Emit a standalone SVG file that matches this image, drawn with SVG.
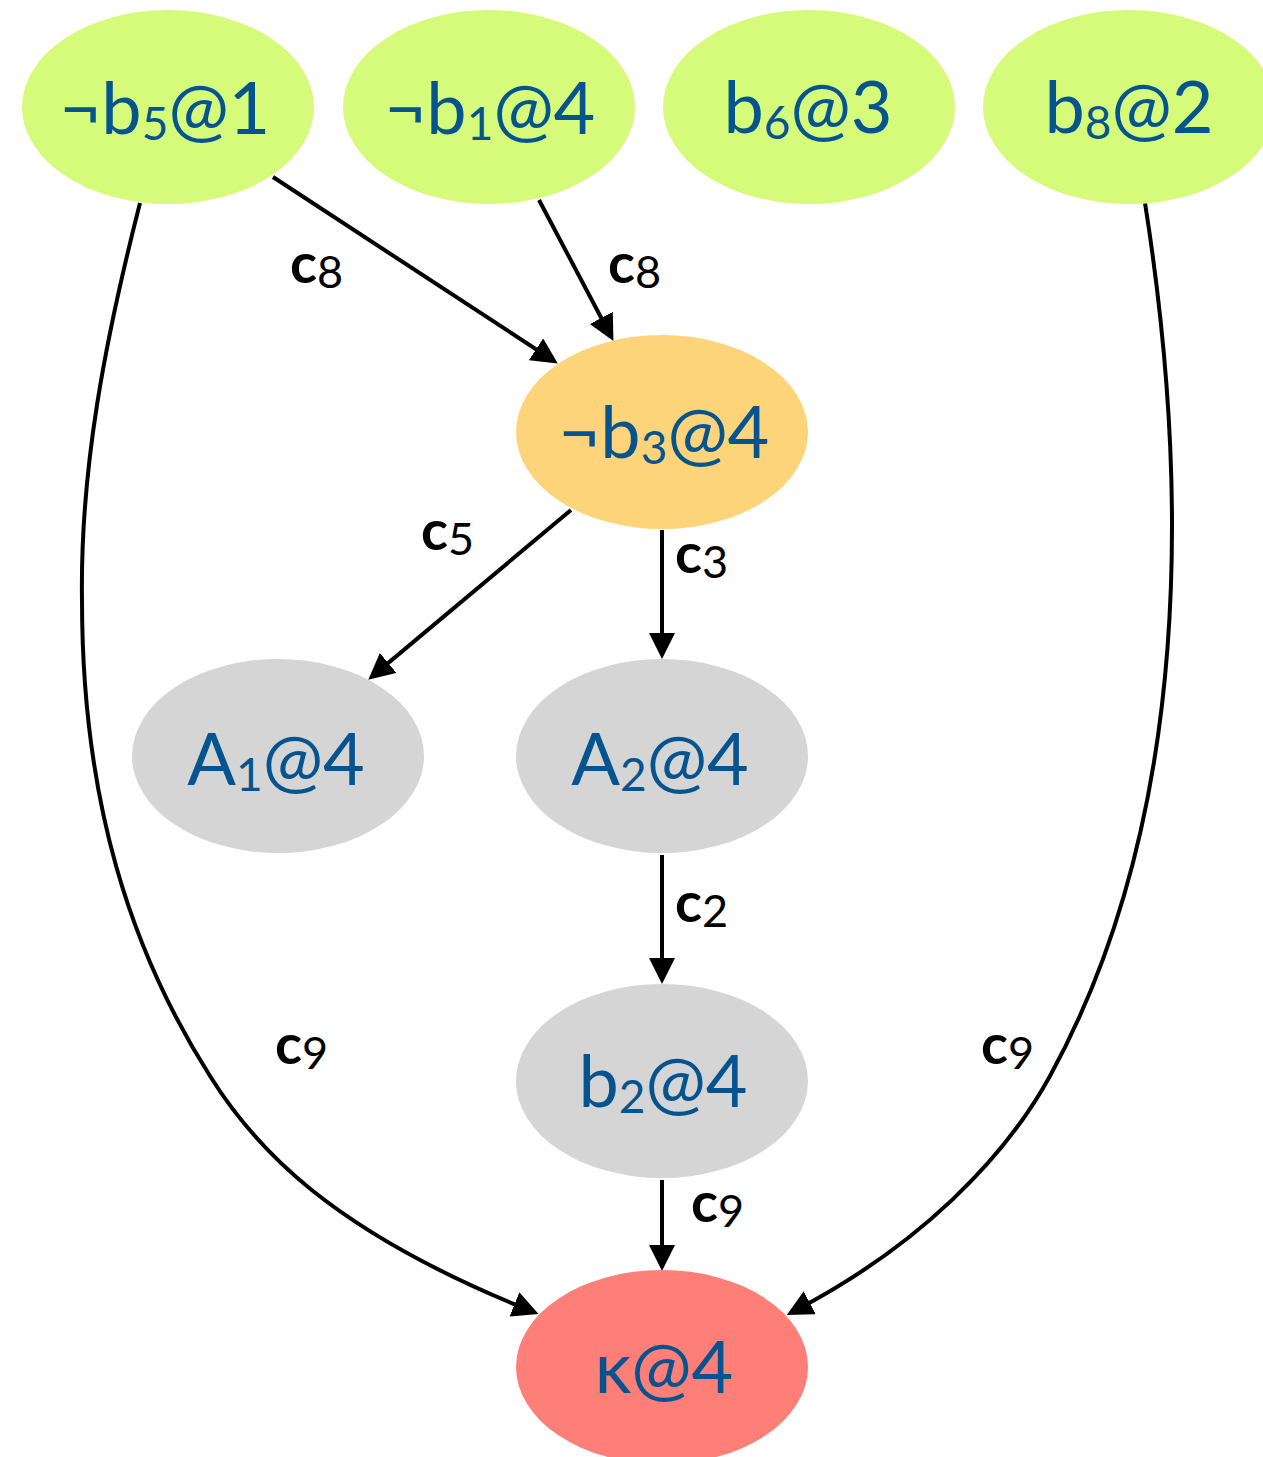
<svg xmlns="http://www.w3.org/2000/svg" width="1263" height="1457" viewBox="0 0 1263 1457">
  <style>
    .lbl { font-family: Lato, "Liberation Sans", sans-serif; font-size: 72px; fill: #06548f; text-anchor: middle; }
    .sub { font-size: 46px; }
    .el { font-family: Lato, "Liberation Sans", sans-serif; font-size: 56px; font-weight: bold; fill: #000; }
    .es { font-size: 45px; font-weight: normal; }
    .edge { fill: none; stroke: #000; stroke-width: 4; marker-end: url(#arrow); }
    .lime { fill: #d6fb7b; }
    .orange { fill: #fed47a; }
    .grey { fill: #d5d5d5; }
    .red { fill: #fe7f78; }
  </style>
  <defs>
    <marker id="arrow" markerUnits="userSpaceOnUse" markerWidth="27" markerHeight="27" refX="15" refY="13" orient="auto">
      <path d="M0,0 L26,13 L0,26 z" fill="#000"/>
    </marker>
  </defs>
  <rect width="1263" height="1457" fill="#fff"/>

  <g id="edges">
    <path class="edge" d="M273,177 L548.6,357.5"/>
    <path class="edge" d="M539,200 L608.3,331.2"/>
    <path class="edge" d="M571,510 L376.7,672.6"/>
    <path class="edge" d="M662,530 L662,648"/>
    <path class="edge" d="M662,855 L662,973"/>
    <path class="edge" d="M662,1180 L662,1260"/>
    <path class="edge" d="M140,203 C105,340 80,470 82,600 C82,800 130,950 210,1076 C255,1148 330,1230 528.4,1310"/>
    <path class="edge" d="M1145,203 C1165,330 1172,430 1172,526 C1172,750 1130,930 1050,1076 C1005,1158 920,1245 796.5,1309.8"/>
  </g>

  <g id="edge-labels">
    <text class="el" x="290" y="283">c<tspan class="es" dy="5">8</tspan></text>
    <text class="el" x="608" y="283">c<tspan class="es" dy="5">8</tspan></text>
    <text class="el" x="421" y="550">c<tspan class="es" dy="5">5</tspan></text>
    <text class="el" x="675" y="573">c<tspan class="es" dy="5">3</tspan></text>
    <text class="el" x="675" y="922">c<tspan class="es" dy="5">2</tspan></text>
    <text class="el" x="275" y="1064">c<tspan class="es" dy="5">9</tspan></text>
    <text class="el" x="981" y="1064">c<tspan class="es" dy="5">9</tspan></text>
    <text class="el" x="691" y="1222">c<tspan class="es" dy="5">9</tspan></text>
  </g>

  <g id="n-b5">
    <ellipse class="lime" cx="168" cy="107" rx="146" ry="97"/>
    <text class="lbl" x="165" y="134">¬b<tspan class="sub" dy="6">5</tspan><tspan dy="-6">@1</tspan></text>
  </g>
  <g id="n-b1">
    <ellipse class="lime" cx="489" cy="107" rx="146" ry="97"/>
    <text class="lbl" x="490" y="134">¬b<tspan class="sub" dy="6">1</tspan><tspan dy="-6">@4</tspan></text>
  </g>
  <g id="n-b6">
    <ellipse class="lime" cx="809" cy="107" rx="146" ry="97"/>
    <text class="lbl" x="808" y="133">b<tspan class="sub" dy="6">6</tspan><tspan dy="-6">@3</tspan></text>
  </g>
  <g id="n-b8">
    <ellipse class="lime" cx="1129" cy="107" rx="146" ry="97"/>
    <text class="lbl" x="1129" y="133">b<tspan class="sub" dy="6">8</tspan><tspan dy="-6">@2</tspan></text>
  </g>
  <g id="n-b3">
    <ellipse class="orange" cx="662" cy="432" rx="146" ry="97"/>
    <text class="lbl" x="664" y="458">¬b<tspan class="sub" dy="6">3</tspan><tspan dy="-6">@4</tspan></text>
  </g>
  <g id="n-A1">
    <ellipse class="grey" cx="278" cy="756" rx="146" ry="97"/>
    <text class="lbl" x="276" y="785">A<tspan class="sub" dy="6">1</tspan><tspan dy="-6">@4</tspan></text>
  </g>
  <g id="n-A2">
    <ellipse class="grey" cx="662" cy="756" rx="146" ry="97"/>
    <text class="lbl" x="660" y="785">A<tspan class="sub" dy="6">2</tspan><tspan dy="-6">@4</tspan></text>
  </g>
  <g id="n-b2">
    <ellipse class="grey" cx="662" cy="1081" rx="146" ry="97"/>
    <text class="lbl" x="663" y="1107">b<tspan class="sub" dy="6">2</tspan><tspan dy="-6">@4</tspan></text>
  </g>
  <g id="n-kappa">
    <ellipse class="red" cx="662" cy="1367" rx="146" ry="97"/>
    <text class="lbl" x="664" y="1393">κ@4</text>
  </g>
</svg>
